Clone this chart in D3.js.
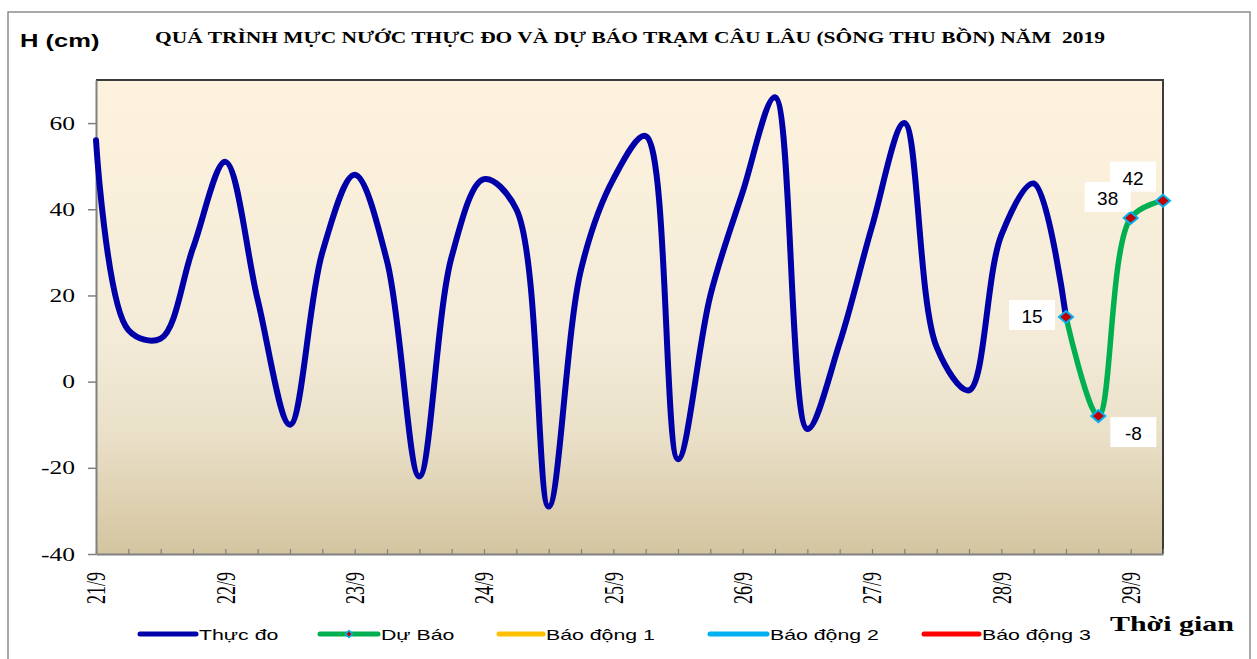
<!DOCTYPE html>
<html>
<head>
<meta charset="utf-8">
<script src="https://cdn.jsdelivr.net/npm/d3@7"></script>
<style>
  html, body { margin: 0; padding: 0; background: #fff; }
  svg { display: block; }
</style>
</head>
<body>
<svg id="chart" width="1257" height="659"></svg>
<script>
// ---- data ----
const title    = 'QUÁ TRÌNH MỰC NƯỚC THỰC ĐO VÀ DỰ BÁO TRẠM CÂU LÂU (SÔNG THU BỒN) NĂM  2019';
const yLabel   = 'H (cm)';
const xLabel   = 'Thời gian';

const start     = new Date(2019, 8, 21, 0);   // 21/9 00h, one value every 6 hours
const stepHours = 6;

const observed = [56, 12, 10, 31, 51, 19, -10, 30, 48, 28, -22, 29, 47, 40, -29, 26,
                  47, 57, -18, 20, 44, 66, -11, 9, 36, 60, 8, -2, 34, 46, 15];
const forecast = [15, -8, 38, 42];            // starts at the last observed step

const yTicks    = [-40, -20, 0, 20, 40, 60];
const dayLabels = ['21/9', '22/9', '23/9', '24/9', '25/9', '26/9', '27/9', '28/9', '29/9'];

const legendNames  = ['Thực đo', 'Dự Báo', 'Báo động 1', 'Báo động 2', 'Báo động 3'];
const legendColors = ['#0000a8', '#00b050', '#ffc000', '#00b0f0', '#ff0000'];

// ---- layout ----
const option =
  {
    plot:    { left: 96, right: 1163, top: 80, bottom: 554 },
    domain:  [-40, 70],
    stretch: 1.42,
    serif:   '"Liberation Serif", "Times New Roman", serif',
    sans:    '"Liberation Sans", Arial, sans-serif',
    legend:  { y: 634, x: [140, 320, 499, 710, 924], width: [56, 58, 44, 57, 55] },
    label:   [ { dx: -34, dy: 6 }, { dx: 35, dy: 24 }, { dx: -23, dy: -13 }, { dx: -30, dy: -16 } ]
  };

const time = i => d3.timeHour.offset(start, i * stepHours);

const obsData  = observed.map((v, i) => ({ t: time(i), v }));
const fcOffset = observed.length - 1;
const fcData   = forecast.map((v, i) => ({ t: time(fcOffset + i), v }));

const svg = d3.select('#chart');

const x = d3.scaleTime()
  .domain([start, time(fcOffset + forecast.length - 1)])
  .range([option.plot.left, option.plot.right])
;

const y = d3.scaleLinear()
  .domain(option.domain)
  .range([option.plot.bottom, option.plot.top])
;

// outer frame
svg.append('rect')
  .attr('x', 8).attr('y', 12)
  .attr('width', 1242).attr('height', 660)
  .attr('fill', '#fff')
  .attr('stroke', '#8c8c8c')
  .attr('stroke-width', 1.5)
;

// plot background
const grad = svg.append('defs').append('linearGradient')
  .attr('id', 'bg')
  .attr('x1', 0).attr('y1', 0).attr('x2', 0).attr('y2', 1)
;
[['0%', '#fdf2dd'], ['55%', '#f3ebd8'], ['75%', '#eae0c8'], ['100%', '#d4c5a0']]
  .forEach(([o, c]) => grad.append('stop').attr('offset', o).attr('stop-color', c));

svg.append('rect')
  .attr('x', option.plot.left)
  .attr('y', option.plot.top)
  .attr('width', option.plot.right - option.plot.left)
  .attr('height', option.plot.bottom - option.plot.top)
  .attr('fill', 'url(#bg)')
;

// top / right border of plot
svg.append('path')
  .attr('d', `M${ option.plot.left },${ option.plot.top } H${ option.plot.right } V${ option.plot.bottom }`)
  .attr('fill', 'none')
  .attr('stroke', '#3c3c3c')
  .attr('stroke-width', 2)
;

// y axis
const gy = svg.append('g')
  .attr('transform', `translate(${ option.plot.left },0)`)
  .call(d3.axisLeft(y).tickValues(yTicks).tickSize(8).tickSizeOuter(0).tickFormat(d => String(d)))
;
gy.select('.domain').attr('stroke', '#808080').attr('stroke-width', 2);
gy.selectAll('.tick line').attr('stroke', '#808080').attr('stroke-width', 1.5);
gy.selectAll('.tick text')
  .attr('x', 0)
  .attr('dy', '0.34em')
  .attr('transform', `translate(-21,0) scale(${ option.stretch },1)`)
  .attr('font-family', option.serif)
  .attr('font-size', 18)
  .attr('fill', '#000')
;

// x axis, minor ticks every 6 hours pointing inward
const gx = svg.append('g')
  .attr('transform', `translate(0,${ option.plot.bottom })`)
  .call(d3.axisBottom(x).tickValues(d3.range(observed.length + forecast.length - 1).map(time))
          .tickSize(-5).tickSizeOuter(0).tickFormat(''))
;
gx.select('.domain').attr('stroke', '#808080').attr('stroke-width', 2);
gx.selectAll('.tick line').attr('stroke', '#808080').attr('stroke-width', 1.2);

// day labels, rotated
svg.append('g').selectAll('text')
  .data(dayLabels)
  .join('text')
  .text(d => d)
  .attr('transform', (d, i) => `translate(${ x(d3.timeDay.offset(start, i)) },572) scale(1.5,1) rotate(-90)`)
  .attr('dy', '0.34em')
  .attr('text-anchor', 'end')
  .attr('font-family', option.serif)
  .attr('font-size', 18)
  .attr('fill', '#000')
;

// series
const line = d3.line()
  .x(d => x(d.t))
  .y(d => y(d.v))
  .curve(d3.curveCatmullRom.alpha(0.5))
;

svg.append('path')
  .datum(obsData)
  .attr('d', line)
  .attr('fill', 'none')
  .attr('stroke', legendColors[0])
  .attr('stroke-width', 6)
  .attr('stroke-linejoin', 'round')
  .attr('stroke-linecap', 'round')
;

svg.append('path')
  .datum(fcData)
  .attr('d', line)
  .attr('fill', 'none')
  .attr('stroke', legendColors[1])
  .attr('stroke-width', 5.5)
  .attr('stroke-linejoin', 'round')
;

const diamond = (w, h) => `M0,${ -h } L${ w },0 L0,${ h } L${ -w },0 Z`;

svg.append('g').selectAll('path')
  .data(fcData)
  .join('path')
  .attr('d', diamond(7, 6))
  .attr('transform', d => `translate(${ x(d.t) },${ y(d.v) })`)
  .attr('fill', '#c00000')
  .attr('stroke', '#00b0f0')
  .attr('stroke-width', 2)
;

// data labels with white boxes
const labels = svg.append('g').selectAll('g')
  .data(fcData)
  .join('g')
  .attr('transform', (d, i) => `translate(${ x(d.t) + option.label[i].dx },${ y(d.v) + option.label[i].dy })`)
;
labels.append('rect')
  .attr('x', -23).attr('y', -23)
  .attr('width', 46).attr('height', 30)
  .attr('fill', '#fff')
;
labels.append('text')
  .text(d => d.v)
  .attr('text-anchor', 'middle')
  .attr('font-family', option.sans)
  .attr('font-size', 19)
  .attr('fill', '#000')
;

// titles
svg.append('text')
  .text(title)
  .attr('x', 155).attr('y', 43)
  .attr('textLength', 950)
  .attr('lengthAdjust', 'spacingAndGlyphs')
  .style('white-space', 'pre')
  .attr('font-family', option.serif)
  .attr('font-weight', 'bold')
  .attr('font-size', 17)
  .attr('fill', '#000')
;

svg.append('text')
  .text(yLabel)
  .attr('transform', `translate(20,47) scale(${ option.stretch },1)`)
  .attr('font-family', option.sans)
  .attr('font-weight', 'bold')
  .attr('font-size', 18)
  .attr('fill', '#000')
;

svg.append('text')
  .text(xLabel)
  .attr('transform', `translate(1110,631) scale(1.36,1)`)
  .attr('font-family', option.serif)
  .attr('font-weight', 'bold')
  .attr('font-size', 22)
  .attr('fill', '#000')
;

// legend
const legend = svg.append('g').selectAll('g')
  .data(legendNames)
  .join('g')
  .attr('transform', (d, i) => `translate(${ option.legend.x[i] },${ option.legend.y })`)
;
legend.append('line')
  .attr('x1', 0)
  .attr('x2', (d, i) => option.legend.width[i])
  .attr('stroke', (d, i) => legendColors[i])
  .attr('stroke-width', 5)
  .attr('stroke-linecap', 'round')
;
legend.filter((d, i) => i === 1).append('path')
  .attr('d', diamond(3.5, 3.5))
  .attr('transform', `translate(${ option.legend.width[1] / 2 },0)`)
  .attr('fill', '#c00000')
  .attr('stroke', '#00b0f0')
  .attr('stroke-width', 1.5)
;
legend.append('text')
  .text(d => d)
  .attr('transform', (d, i) => `translate(${ option.legend.width[i] + 3 },5.5) scale(${ option.stretch },1)`)
  .attr('font-family', option.sans)
  .attr('font-size', 15)
  .attr('fill', '#000')
;
</script>
</body>
</html>
